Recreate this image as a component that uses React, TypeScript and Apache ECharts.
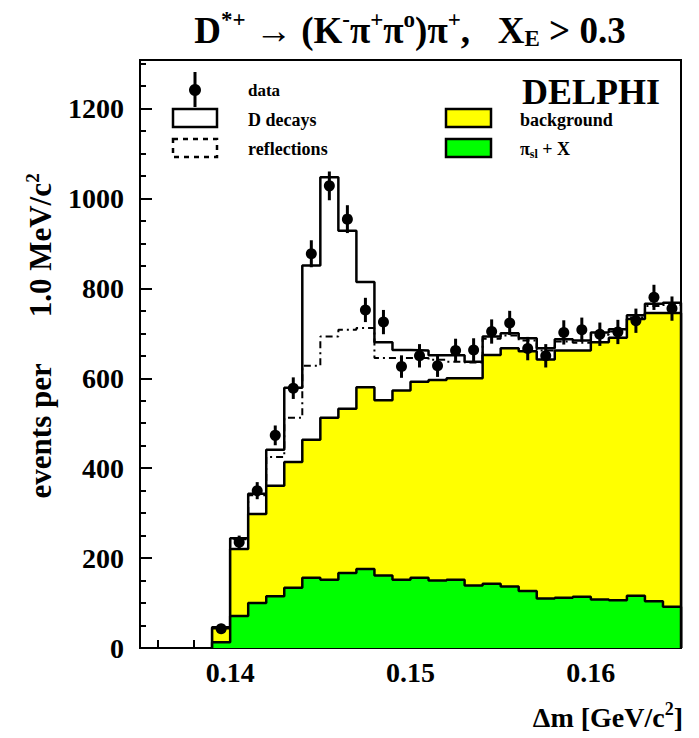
import React, { useEffect, useRef } from "react";
import * as echarts from "echarts";

// Histogram bins: lower edges in GeV/c^2, each 1 MeV wide
const binLow = [
  0.139, 0.14, 0.141, 0.142, 0.143, 0.144, 0.145, 0.146, 0.147, 0.148, 0.149, 0.15, 0.151,
  0.152, 0.153, 0.154, 0.155, 0.156, 0.157, 0.158, 0.159, 0.16, 0.161, 0.162, 0.163, 0.164,
];
const binWidth = 0.001;

// Stacked contributions (upper edge of each component)
const dDecays = [46, 244, 343, 441, 579, 851, 1047, 928, 814, 680, 663, 662, 651, 651, 637, 693, 700, 689, 667, 687, 684, 702, 709, 740, 766, 768];
const reflections = [46, 242, 340, 425, 512, 628, 693, 708, 712, 645, 645, 645, 641, 637, 635, 688, 695, 684, 662, 682, 679, 697, 704, 735, 761, 763];
const background = [44, 220, 298, 361, 414, 463, 512, 532, 580, 551, 573, 592, 596, 600, 600, 652, 667, 660, 642, 662, 662, 680, 690, 732, 745, 745];
const piSlX = [13, 71, 100, 115, 134, 156, 152, 167, 176, 161, 152, 156, 150, 152, 139, 143, 137, 127, 110, 112, 114, 108, 106, 116, 104, 92];

// Measured events per bin with statistical errors
const dataCounts = [43, 235, 350, 473, 578, 877, 1028, 954, 752, 725, 626, 650, 628, 662, 663, 704, 723, 666, 650, 702, 708, 698, 703, 728, 780, 755];
const dataErrors = [7, 15, 19, 22, 24, 30, 32, 31, 27, 27, 25, 26, 25, 26, 26, 27, 27, 26, 26, 27, 27, 26, 27, 27, 28, 27];

// Axis ticks
const xMajorTicks = [0.14, 0.15, 0.16];
const xMinorTicks = [0.136, 0.138, 0.142, 0.144, 0.146, 0.148, 0.152, 0.154, 0.156, 0.158, 0.162, 0.164];
const yMajorTicks = [0, 200, 400, 600, 800, 1000, 1200];
const yMinorTicks = [50, 100, 150, 250, 300, 350, 450, 500, 550, 650, 700, 750, 850, 900, 950, 1050, 1100, 1150, 1250, 1300];

const SERIF = "'Liberation Serif', 'Times New Roman', Times, serif";

function stepPoints(vals: number[]): number[][] {
  const pts: number[][] = [[binLow[0], 0]];
  vals.forEach((v, i) => {
    pts.push([binLow[i], v]);
    pts.push([binLow[i] + binWidth, v]);
  });
  pts.push([binLow[binLow.length - 1] + binWidth, 0]);
  return pts;
}

export default function App() {
  const ref = useRef<HTMLDivElement>(null);

  useEffect(() => {
    if (!ref.current) return;
    const chart = echarts.init(ref.current, undefined, { renderer: "svg" });

    const boldText = { fontFamily: SERIF, fontWeight: "bold" as const, fill: "#000" };

    const option: any = {
      animation: false,
      backgroundColor: "#fff",
      grid: {
        left: 140,
        right: 18,
        top: 60,
        bottom: 90,
        show: true,
        borderColor: "#000",
        borderWidth: 2,
        backgroundColor: "transparent",
      },
      xAxis: [
        {
          type: "value",
          min: 0.135,
          max: 0.165,
          axisLine: { show: true, onZero: false, lineStyle: { color: "#000", width: 2 } },
          axisTick: { show: true, inside: true, length: 15, customValues: xMajorTicks, lineStyle: { color: "#000", width: 2 } },
          axisLabel: {
            show: true,
            customValues: xMajorTicks,
            formatter: (v: number) => v.toFixed(2),
            fontFamily: SERIF,
            fontWeight: "bold",
            fontSize: 28,
            color: "#000",
            margin: 10,
          },
          splitLine: { show: false },
        },
        {
          type: "value",
          position: "bottom",
          min: 0.135,
          max: 0.165,
          axisLine: { show: false },
          axisTick: { show: true, inside: true, length: 8, customValues: xMinorTicks, lineStyle: { color: "#000", width: 2 } },
          axisLabel: { show: false },
          splitLine: { show: false },
        },
      ],
      yAxis: [
        {
          type: "value",
          min: 0,
          max: 1308,
          axisLine: { show: true, lineStyle: { color: "#000", width: 2 } },
          axisTick: { show: true, inside: true, length: 12, customValues: yMajorTicks, lineStyle: { color: "#000", width: 2 } },
          axisLabel: {
            show: true,
            customValues: yMajorTicks,
            formatter: (v: number) => String(Math.round(v)),
            fontFamily: SERIF,
            fontWeight: "bold",
            fontSize: 28,
            color: "#000",
            margin: 16,
          },
          splitLine: { show: false },
        },
        {
          type: "value",
          position: "left",
          min: 0,
          max: 1308,
          axisLine: { show: false },
          axisTick: { show: true, inside: true, length: 6, customValues: yMinorTicks, lineStyle: { color: "#000", width: 2 } },
          axisLabel: { show: false },
          splitLine: { show: false },
        },
      ],
      series: [
        {
          name: "D decays",
          type: "line",
          data: stepPoints(dDecays),
          symbol: "none",
          lineStyle: { color: "#000", width: 2.5 },
          z: 2,
          silent: true,
        },
        {
          name: "reflections",
          type: "line",
          data: stepPoints(reflections),
          symbol: "none",
          lineStyle: { color: "#000", width: 2, type: [7, 4, 2, 4] },
          z: 3,
          silent: true,
        },
        {
          name: "background",
          type: "line",
          data: stepPoints(background),
          symbol: "none",
          lineStyle: { color: "#000", width: 2.5 },
          areaStyle: { color: "#ffff00", opacity: 1 },
          z: 4,
          silent: true,
        },
        {
          name: "pi_sl + X",
          type: "line",
          data: stepPoints(piSlX),
          symbol: "none",
          lineStyle: { color: "#000", width: 2.5 },
          areaStyle: { color: "#00ff00", opacity: 1 },
          z: 5,
          silent: true,
        },
        {
          name: "data",
          type: "custom",
          z: 10,
          silent: true,
          data: dataCounts.map((c, i) => [binLow[i] + binWidth / 2, c, dataErrors[i]]),
          renderItem: (_params: any, api: any) => {
            const x = api.value(0);
            const y = api.value(1);
            const e = api.value(2);
            const p = api.coord([x, y]);
            const top = api.coord([x, y + e]);
            const bot = api.coord([x, Math.max(0, y - e)]);
            return {
              type: "group",
              children: [
                {
                  type: "line",
                  shape: { x1: p[0], y1: top[1], x2: p[0], y2: bot[1] },
                  style: { stroke: "#000", lineWidth: 3 },
                },
                {
                  type: "circle",
                  shape: { cx: p[0], cy: p[1], r: 5.5 },
                  style: { fill: "#000" },
                },
              ],
            };
          },
        },
      ],
      graphic: [
        // Title
        {
          type: "text",
          x: 410,
          y: 30,
          style: {
            text:
              "{b|D}{sup|*+}{b| \u2192 (K}{sup|-}{b|\u03c0}{sup|+}{b|\u03c0}{sup|o}{b|)\u03c0}{sup|+}{b|,   X}{sub|E}{b| > 0.3}",
            align: "center",
            verticalAlign: "middle",
            rich: {
              b: { ...boldText, fontSize: 37 },
              sup: { ...boldText, fontSize: 23, padding: [0, 0, 22, 0] },
              sub: { ...boldText, fontSize: 23, padding: [16, 0, 0, 0] },
            },
          },
        },
        // Y axis title
        {
          type: "text",
          x: 40,
          y: 336,
          rotation: Math.PI / 2,
          style: {
            text: "{b|events per      1.0 MeV/c}{sup|2}",
            align: "center",
            verticalAlign: "middle",
            rich: {
              b: { ...boldText, fontSize: 31 },
              sup: { ...boldText, fontSize: 19, padding: [0, 0, 16, 0] },
            },
          },
        },
        // X axis title
        {
          type: "text",
          x: 683,
          y: 717,
          style: {
            text: "{b|\u0394m [GeV/c}{sup|2}{b|]}",
            align: "right",
            verticalAlign: "middle",
            rich: {
              b: { ...boldText, fontSize: 28 },
              sup: { ...boldText, fontSize: 18, padding: [0, 0, 16, 0] },
            },
          },
        },
        // Legend: data
        { type: "line", shape: { x1: 195, y1: 72, x2: 195, y2: 107 }, style: { stroke: "#000", lineWidth: 3 } },
        { type: "circle", shape: { cx: 195, cy: 90, r: 6 }, style: { fill: "#000" } },
        { type: "text", x: 248, y: 90, style: { text: "data", ...boldText, fontSize: 17, verticalAlign: "middle" } },
        // Legend: D decays
        { type: "rect", shape: { x: 173, y: 109, width: 44, height: 18 }, style: { fill: "#fff", stroke: "#000", lineWidth: 2.5 } },
        { type: "text", x: 248, y: 120, style: { text: "D decays", ...boldText, fontSize: 18, verticalAlign: "middle" } },
        // Legend: reflections
        {
          type: "rect",
          shape: { x: 173, y: 139, width: 44, height: 18 },
          style: { fill: "none", stroke: "#000", lineWidth: 2.5, lineDash: [5, 5] },
        },
        { type: "text", x: 248, y: 149, style: { text: "reflections", ...boldText, fontSize: 18, verticalAlign: "middle" } },
        // Legend: background
        { type: "rect", shape: { x: 446, y: 109, width: 45, height: 18 }, style: { fill: "#ffff00", stroke: "#000", lineWidth: 2.5 } },
        { type: "text", x: 520, y: 120, style: { text: "background", ...boldText, fontSize: 18, verticalAlign: "middle" } },
        // Legend: pi_sl + X
        { type: "rect", shape: { x: 446, y: 139, width: 45, height: 18 }, style: { fill: "#00ff00", stroke: "#000", lineWidth: 2.5 } },
        {
          type: "text",
          x: 520,
          y: 149,
          style: {
            text: "{b|\u03c0}{sub|sl}{b| + X}",
            verticalAlign: "middle",
            rich: {
              b: { ...boldText, fontSize: 18 },
              sub: { ...boldText, fontSize: 12, padding: [10, 0, 0, 0] },
            },
          },
        },
        // Experiment tag
        { type: "text", x: 660, y: 92, style: { text: "DELPHI", ...boldText, fontSize: 36, align: "right", verticalAlign: "middle" } },
      ],
    };

    chart.setOption(option);
    return () => chart.dispose();
  }, []);

  return (
    <div
      ref={ref}
      style={{ position: "absolute", left: 0, top: 0, width: 699, height: 738, background: "#fff" }}
    />
  );
}
